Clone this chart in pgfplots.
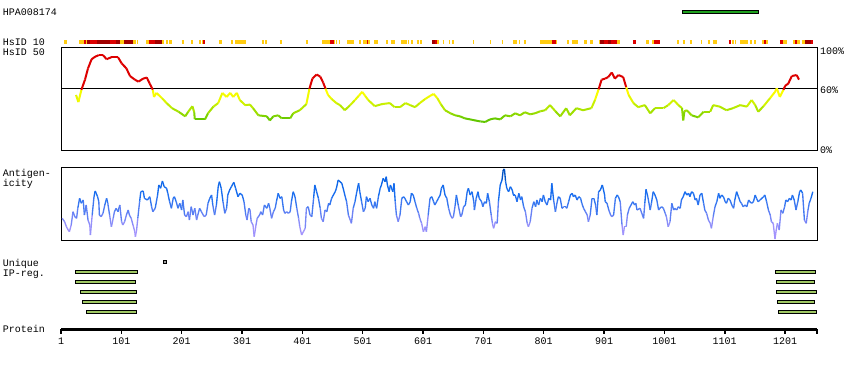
\documentclass[border=0pt]{standalone}
\usepackage{pgfplots}
\pgfplotsset{compat=1.18}
\usepackage{fontspec}
\setmainfont{Liberation Sans}
\newfontfamily\pixfont{Liberation Mono}
\definecolor{hsorange}{RGB}{255,204,17}
\definecolor{hsred}{RGB}{221,0,0}
\definecolor{hsdark}{RGB}{160,0,0}
\definecolor{ipgreen}{RGB}{160,200,100}
\definecolor{topgreen}{RGB}{30,160,30}
\begin{document}
\begin{tikzpicture}[x=1pt,y=1pt]
\useasboundingbox (0,0) rectangle (850,370);
\tikzset{lbl/.style={font=\pixfont\fontsize{10}{10}\selectfont, inner sep=0pt, anchor=base west}}
\node[lbl] at (2.7,354) {HPA008174};
\node[lbl] at (2.7,324.5) {HsID 10};
\node[lbl] at (2.7,314) {HsID 50};
\node[lbl] at (2.7,193.5) {Antigen-};
\node[lbl] at (2.7,183.5) {icity};
\node[lbl] at (2.7,104) {Unique};
\node[lbl] at (2.7,93.5) {IP-reg.};
\node[lbl] at (2.7,37.3) {Protein};
\node[lbl] at (820,315) {100\%};
\node[lbl] at (820,276.7) {60\%};
\node[lbl] at (820,216.7) {0\%};

% HsID 50 panel
\begin{axis}[at={(61pt,220pt)}, anchor=south west, scale only axis,
  width=756pt, height=102pt, xmin=1, xmax=1261, ymin=0, ymax=100,
  xtick=\empty, ytick=\empty, axis line style={line width=1pt},
  colormap={hs}{rgb255(0pt)=(60,170,0); rgb255(30pt)=(100,200,0); rgb255(36pt)=(150,220,0); rgb255(45pt)=(200,240,0); rgb255(52pt)=(240,250,0); rgb255(57pt)=(255,255,0); rgb255(59pt)=(255,240,0); rgb255(60pt)=(221,0,0); rgb255(100pt)=(221,0,0)},
  point meta min=0, point meta max=100]
\addplot[black, line width=1pt] coordinates {(1,60) (1261,60)};
\addplot[mesh, point meta=y, line width=2pt] coordinates {
(26,54)(30,47)(35,59)(41,69)(46,80)(52,89)(58,91.5)(64,93)(71,93)(77,89)(85,91)(96,91)(102,85)(110,80)(116,72.5)(124,69)(130,67)(138,70)(144,71)(149,65)(154,59)(156,52)(160,56)(169,51)(177,46)(186,41)(197,37.5)(208,33)(213,37.5)(220,43)(223,37)(224,30)(241,30)(246,36)(255,42.5)(263,46)(270,56)(277,52)(283,56)(288,52)(294,56)(299,49)(308,44)(316,44.5)(321,41)(330,34)(344,33)(349,29)(355,33)(363,34)(369,31)(383,31)(388,36)(399,39)(410,45)(415,60)(420,70)(427,74)(433,72)(438,66)(442,60)(446,54)(452,50)(460,46)(466,44)(474,39)(483,44)(491,49)(497,53)(503,57)(508,53)(513,49)(524,43)(536,45)(549,46)(557,42)(566,42)(575,46)(583,44)(591,42)(599,46)(608,50)(616,53)(622,55)(628,51)(634,45)(641,39)(650,36)(658,34)(666,33)(674,31)(683,30)(691,29)(700,28)(708,27.5)(716,30)(724,31)(733,30)(741,34)(750,33)(758,36)(766,34)(774,37)(783,35)(791,36)(800,38)(808,39)(816,44)(825,38)(833,33)(843,41)(849,34)(860,41)(871,39)(885,41)(891,49)(897,59.5)(902,69)(908,70)(913,71.5)(919,76)(924,70)(930,73.5)(938,71.5)(943,61.5)(947,54)(955,46)(963,42)(974,44)(983,36)(991,41)(1005,41)(1013,44)(1022,49)(1030,44)(1036,41)(1038,29)(1040,38)(1044,39)(1052,34)(1063,32)(1072,37.5)(1083,37.5)(1088,44)(1099,42.5)(1110,39)(1121,41)(1133,44)(1144,42.5)(1152,49)(1158,44)(1163,37.5)(1172,43)(1183,51)(1191,57)(1194,60.5)(1199,52)(1205,59)(1208,63)(1213,65)(1219,72.5)(1227,73.5)(1231,69)
};
\end{axis}

% Antigenicity panel
\begin{axis}[at={(61pt,130pt)}, anchor=south west, scale only axis,
  width=756pt, height=72pt, xmin=1, xmax=1261, ymin=0, ymax=72,
  xtick=\empty, ytick=\empty, axis line style={line width=1pt},
  colormap={ag}{rgb255(0pt)=(175,150,255); rgb255(15pt)=(150,145,250); rgb255(25pt)=(105,130,245); rgb255(35pt)=(60,120,240); rgb255(45pt)=(25,110,240); rgb255(60pt)=(10,100,230); rgb255(66pt)=(0,80,190); rgb255(72pt)=(0,60,150)},
  point meta min=0, point meta max=72]
\addplot[mesh, point meta=y, line width=1.35pt] coordinates {
(3,21.7)(7,18.3)(10,13.3)(13,10)(15,8.3)(18,15)(21,28.3)(24,23.3)(27,21.7)(29,31.7)(32,41.7)(35,36.7)(38,40)(40,25)(43,35)(46,20)(49,15)(50,5)(53,25)(56,43.3)(58,49)(62,43.3)(64,38.3)(65,25)(68,23.3)(71,26.7)(74,35)(77,41.7)(79,36.7)(82,25)(85,13.3)(88,21.7)(90,28.3)(93,31.7)(96,28.3)(99,35)(102,18.3)(104,15)(107,18.3)(110,25)(113,30)(115,25)(118,21.7)(121,15)(124,8.3)(125,3.3)(127,10)(129,21.7)(132,38.3)(134,48.3)(138,49)(140,41.7)(145,40)(149,43.3)(152,33.3)(154,28.3)(158,31.7)(162,45)(164,55)(167,51.7)(170,59)(173,53.3)(177,51.7)(179,46.7)(182,38.3)(185,31.7)(188,41.7)(190,43.3)(193,38.3)(196,31.7)(199,36.7)(202,30)(204,40)(207,25)(210,23.3)(213,28.3)(215,20)(218,33.3)(221,25)(224,31.7)(227,20)(229,25)(232,31.7)(235,28.3)(238,25)(240,23.3)(243,25)(246,36.7)(249,41.7)(252,45)(254,35)(257,25)(260,35)(263,53.3)(265,58.3)(268,51.7)(271,38.3)(274,26.7)(277,31.7)(279,45)(282,50)(285,53.3)(289,57.7)(292,51.7)(296,43.3)(299,46.7)(303,45)(306,38.3)(309,25)(311,20)(314,31.7)(316,30)(318,18.3)(321,15)
(323,3.3)(326,15)(328,21.7)(332,25)(334,28.3)(337,25)(340,35)(344,31.7)(347,36.7)(349,31.7)(352,21.7)(355,28.3)(358,31.7)(360,38.3)(363,46.7)(366,41.7)(369,43.3)(372,30)(374,26.7)(377,28.3)(380,26.7)(383,28.3)(385,38.3)(388,48.3)(391,43.3)(394,31.7)(397,21.7)(399,13.3)(402,5)(405,8.3)(408,11.7)(410,31.7)(413,33.3)(416,25)(419,23.3)(422,41.7)(424,55)(427,48.3)(430,41.7)(433,31.7)(435,21.7)(438,18.3)(441,30)(444,28.3)(447,36.7)(449,35)(452,41.7)(455,45)(458,48.3)(460,51.7)(463,60)(466,58.3)(469,56.7)(472,50)(474,45)(477,38.3)(480,25)(483,20)(485,16.7)(488,31.7)(491,38.3)(494,48.3)(497,56.7)(499,48.3)(502,38.3)(505,28.3)(508,31.7)(510,43.3)(513,38.3)(516,41.7)(519,35)(522,31.7)(524,38.3)(527,31.7)(530,43.3)(533,51.7)(535,55)(538,61.7)(541,58.3)(543,63.3)(545,55)(548,48.3)(550,55)(554,48.3)(556,56.7)(558,38.3)(560,25)(563,18.3)(566,25)(569,41.7)(572,43.3)(574,41.7)(577,38.3)(580,35)(583,38.3)(585,46.7)(588,45)(591,38.3)(594,31.7)(597,26.7)(599,21.7)(602,16.7)(605,8.3)(608,13.3)(610,8.3)(613,25)(616,41.7)(619,43.3)(622,38.3)(624,35)(627,38.3)(630,41.7)(633,45)(635,51.7)(638,55)(641,45)
(644,41.7)(647,31.7)(650,25)(653,21.7)(655,23.3)(658,35)(660,45)(663,35)(667,23.3)(669,25)(672,33.3)(675,35)(678,48.3)(680,51.7)(683,45)(686,48.3)(689,38.3)(690,30)(693,41.7)(696,48.3)(698,41.7)(702,38.3)(704,33.3)(707,38.3)(710,36.7)(712,46.7)(715,38.3)(718,25)(720,16.7)(722,11.7)(725,18.3)(728,16.7)(730,38.3)(733,55)(736,60)(738,70)(740,71)(742,58.3)(744,51.7)(747,48.3)(750,53.3)(753,50)(755,45)(758,45)(761,38.3)(764,46.7)(767,40)(769,43.3)(772,33.3)(775,28.3)(778,16.7)(780,13.3)(783,18.3)(786,31.7)(789,38.3)(792,33.3)(794,40)(797,35)(800,41.7)(803,38.3)(805,45)(808,38.3)(811,35)(814,41.7)(817,40)(819,56.7)(822,40)(825,28.3)(828,38.3)(830,43.3)(833,41.7)(836,31.7)(839,33.3)(842,33.3)(844,31.7)(847,38.3)(850,45)(853,46.7)(855,43.3)(858,45)(861,40)(864,43.3)(867,41.7)(869,36.7)(872,31.7)(875,28.3)(878,25)(880,18.3)(883,25)(886,41.7)(889,41.7)(892,35)(894,25)(897,48.3)(900,50)(903,55)(904,53.3)(907,45)(908,38.3)(911,36.7)(914,30)(917,25)(919,23.3)(922,25)(925,41.7)(928,45)(930,43.3)(933,38.3)(936,15)(938,5)(940,13.3)(943,13.3)(945,25)(948,31.7)(951,35)(954,38.3)(957,35)(959,36.7)(961,30)
(966,31.7)(972,21.7)(974,36.7)(976,50.7)(979,43.3)(983,30)(985,36.7)(988,48.3)(991,45)(994,40)(997,30)(999,31.7)(1002,33.3)(1005,31.7)(1008,26.7)(1010,23.3)(1013,13.3)(1016,18.3)(1019,36.7)(1022,30)(1024,31.7)(1027,30)(1030,33.3)(1033,31.7)(1035,40)(1038,43.3)(1041,48.3)(1044,45)(1047,46.7)(1049,43.3)(1052,48.3)(1055,46.7)(1058,40)(1060,41.7)(1063,35)(1066,45)(1069,46.7)(1072,36.7)(1074,30)(1077,26.7)(1080,20)(1083,16.7)(1085,11.7)(1088,23.3)(1091,33.3)(1094,38.3)(1097,46.7)(1099,41.7)(1102,45)(1105,43.3)(1108,38.3)(1110,36.7)(1113,41.7)(1116,40)(1119,35)(1122,31.7)(1124,40)(1127,48.3)(1130,43.3)(1133,38.3)(1135,36.7)(1138,33.3)(1141,35)(1144,33.3)(1147,40)(1149,38.3)(1152,36.7)(1155,38.3)(1158,45)(1160,41.7)(1163,38.3)(1166,40)(1169,41.7)(1172,43.3)(1174,45)(1177,38.3)(1180,30)(1183,25)(1185,18.3)(1188,16.7)(1191,1)(1193,10)(1195,16.7)(1198,10)(1201,30)(1204,26.7)(1207,33.3)(1209,40)(1212,38.3)(1215,41.7)(1218,40)(1220,45)(1223,40)(1226,30)(1229,38.3)(1232,48.3)(1234,50)(1237,46.7)(1240,20)(1243,16.7)(1246,30)(1248,36.7)(1251,41.7)(1254,48.3)
};
\end{axis}

% Tracks: HsID 10 bar, epitope bar, unique IP regions (y = row position)
\begin{axis}[at={(61pt,0pt)}, anchor=south west, scale only axis,
  width=756pt, height=370pt, xmin=1, xmax=1261, ymin=0, ymax=370,
  y dir=reverse, hide axis, clip=false, unbounded coords=jump]
\addplot[hsorange, line width=4.7pt] coordinates {
(6,42)(10.4,42)(10.4,nan)(31,42)(39.3,42)(39.3,nan)(42.1,42)(44.9,42)(44.9,nan)(99.3,42)(106,42)(106,nan)(120.4,42)(126,42)(126,nan)(127.7,42)(128.8,42)(128.8,nan)(142.7,42)(147.1,42)(147.1,nan)(168.8,42)(172.7,42)(172.7,nan)(176,42)(178.8,42)(178.8,nan)(181.6,42)(185.4,42)(185.4,nan)(202.1,42)(205.5,42)(205.5,nan)(217.7,42)(221,42)(221,nan)(231,42)(234.3,42)(234.3,nan)(236,42)(237.7,42)(237.7,nan)(264.3,42)(268.8,42)(268.8,nan)(284.3,42)(287.7,42)(287.7,nan)(291,42)(308.8,42)(308.8,nan)(335.4,42)(338.8,42)(338.8,nan)(340.4,42)(343.8,42)(343.8,nan)(365.4,42)(368.8,42)(368.8,nan)(408.8,42)(412.1,42)(412.1,nan)(436,42)(449.3,42)(449.3,nan)(455.4,42)(457.1,42)(457.1,nan)(459.9,42)(461.6,42)(461.6,nan)(463.8,42)(466.6,42)(466.6,nan)(477.7,42)(488.8,42)(488.8,nan)(497.7,42)(501,42)(501,nan)(504.3,42)(511.6,42)(511.6,nan)(513.2,42)(516,42)(516,nan)(522.7,42)(529.3,42)(529.3,nan)(542.7,42)(546,42)(546,nan)(550.4,42)(557.1,42)(557.1,nan)(567.7,42)(578.2,42)(578.2,nan)(579.3,42)(581.6,42)(581.6,nan)(584.9,42)(587.1,42)(587.1,nan)(593.8,42)(597.1,42)(597.1,nan)(598.8,42)(602.1,42)(602.1,nan)(627.7,42)(631,42)(631,nan)(637.1,42)(638.8,42)(638.8,nan)(647.1,42)(649.9,42)(649.9,nan)(652.7,42)(656,42)(656,nan)(687.7,42)(689.3,42)(689.3,nan)(715.4,42)(717.1,42)(717.1,nan)(735.4,42)(737.1,42)(737.1,nan)(754.3,42)(761,42)(761,nan)(764.3,42)(766,42)(766,nan)(772.1,42)(775.4,42)(775.4,nan)(799.3,42)(818.8,42)(818.8,nan)(825.4,42)(827.1,42)(827.1,nan)(844.3,42)(847.7,42)(847.7,nan)(852.1,42)(862.7,42)(862.7,nan)(873.2,42)(877.1,42)(877.1,nan)(883.2,42)(887.1,42)(887.1,nan)(897.1,42)(899.3,42)(899.3,nan)(927.1,42)(932.1,42)(932.1,nan)(976,42)(980.4,42)(980.4,nan)(986,42)(989.9,42)(989.9,nan)(1027.7,42)(1031.6,42)(1031.6,nan)(1037.1,42)(1040.4,42)(1040.4,nan)(1048.8,42)(1052.7,42)(1052.7,nan)(1067.1,42)(1068.8,42)(1068.8,nan)(1078.8,42)(1082.1,42)(1082.1,nan)(1087.1,42)(1094.3,42)(1094.3,nan)(1118.8,42)(1122.7,42)(1122.7,nan)(1124.3,42)(1126,42)(1126,nan)(1132.1,42)(1146,42)(1146,nan)(1148.8,42)(1152.1,42)(1152.1,nan)(1156,42)(1159.3,42)(1159.3,nan)(1168.8,42)(1172.1,42)(1172.1,nan)(1175.4,42)(1178.8,42)(1178.8,nan)(1204.3,42)(1210.4,42)(1210.4,nan)(1221,42)(1223.8,42)(1223.8,nan)(1228.2,42)(1232.7,42)(1232.7,nan)(1235.4,42)(1241,42)
};
\addplot[hsred, line width=4.7pt] coordinates {
(39.3,42)(42.1,42)(42.1,nan)(49.3,42)(61.6,42)(61.6,nan)(82.7,42)(92.7,42)(92.7,nan)(147.1,42)(157.7,42)(157.7,nan)(237.7,42)(241,42)(241,nan)(449.3,42)(455.4,42)(455.4,nan)(511.6,42)(513.2,42)(513.2,nan)(624.9,42)(627.7,42)(627.7,nan)(818.8,42)(825.4,42)(825.4,nan)(906,42)(912.7,42)(912.7,nan)(917.1,42)(927.1,42)(927.1,nan)(954.3,42)(959.3,42)(959.3,nan)(989.9,42)(999.3,42)(999.3,nan)(1113.8,42)(1117.7,42)(1117.7,nan)(1173.2,42)(1175.4,42)(1175.4,nan)(1199.3,42)(1204.3,42)(1204.3,nan)(1223.8,42)(1228.2,42)(1228.2,nan)(1251,42)(1254.3,42)
};
\addplot[hsdark, line width=4.7pt] coordinates {
(44.9,42)(49.3,42)(49.3,nan)(61.6,42)(82.7,42)(82.7,nan)(92.7,42)(99.3,42)(99.3,nan)(106,42)(120.4,42)(120.4,nan)(157.7,42)(168.8,42)(168.8,nan)(619.3,42)(624.9,42)(624.9,nan)(899.3,42)(906,42)(906,nan)(912.7,42)(917.1,42)(917.1,nan)(1241,42)(1251,42)
};
% top antigen bar
\addplot[fill=topgreen, draw=black, line width=1pt] coordinates {(1036,10.5) (1163,10.5) (1163,13.8) (1036,13.8)} -- cycle;
% unique IP regions
\addplot[fill=gray!75, draw=black, line width=1pt] coordinates {(172.3,260.8) (176.4,260.8) (176.4,263.8) (172.3,263.8)} -- cycle;
\addplot[fill=ipgreen, draw=black, line width=1pt] coordinates {(25.6,270.8) (129,270.8) (129,273.8) (25.6,273.8)} -- cycle;
\addplot[fill=ipgreen, draw=black, line width=1pt] coordinates {(25.6,280.8) (125.7,280.8) (125.7,283.8) (25.6,283.8)} -- cycle;
\addplot[fill=ipgreen, draw=black, line width=1pt] coordinates {(34,290.8) (127.4,290.8) (127.4,293.8) (34,293.8)} -- cycle;
\addplot[fill=ipgreen, draw=black, line width=1pt] coordinates {(37.3,300.8) (126.7,300.8) (126.7,303.8) (37.3,303.8)} -- cycle;
\addplot[fill=ipgreen, draw=black, line width=1pt] coordinates {(44,310.8) (127.4,310.8) (127.4,313.8) (44,313.8)} -- cycle;
\addplot[fill=ipgreen, draw=black, line width=1pt] coordinates {(1192.3,270.8) (1258,270.8) (1258,273.8) (1192.3,273.8)} -- cycle;
\addplot[fill=ipgreen, draw=black, line width=1pt] coordinates {(1194,280.8) (1256.4,280.8) (1256.4,283.8) (1194,283.8)} -- cycle;
\addplot[fill=ipgreen, draw=black, line width=1pt] coordinates {(1194,290.8) (1259.7,290.8) (1259.7,293.8) (1194,293.8)} -- cycle;
\addplot[fill=ipgreen, draw=black, line width=1pt] coordinates {(1195.6,300.8) (1256.4,300.8) (1256.4,303.8) (1195.6,303.8)} -- cycle;
\addplot[fill=ipgreen, draw=black, line width=1pt] coordinates {(1197.3,310.8) (1259.7,310.8) (1259.7,313.8) (1197.3,313.8)} -- cycle;
\end{axis}

% Protein ruler
\begin{axis}[at={(61pt,40.8pt)}, anchor=south west, scale only axis,
  width=756pt, height=10pt, xmin=1, xmax=1254, ymin=0, ymax=1,
  axis x line*=bottom, axis y line=none, axis line style={-, line width=3pt},
  xtick={1,101,201,301,401,501,601,701,801,901,1001,1101,1201,1254},
  xticklabels={1,101,201,301,401,501,601,701,801,901,1001,1101,1201,{}},
  tick align=outside, major tick length=4.5pt, tick style={black, line width=1.6pt},
  xticklabel style={font=\pixfont\fontsize{10}{10}\selectfont, anchor=base, yshift=-10.6pt}]
\addplot[draw=none] coordinates {(1,0) (1254,0)};
\end{axis}
\end{tikzpicture}
\end{document}
